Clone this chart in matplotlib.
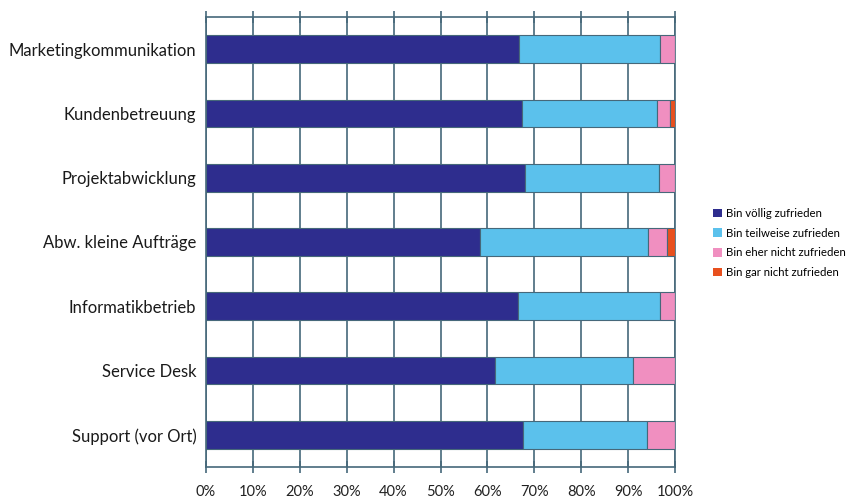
import numpy as np
import matplotlib.pyplot as plt
from matplotlib.patches import Patch

plt.rcParams['font.family'] = ['Lato', 'DejaVu Sans']

# Satisfaction by service area (percent of responses)
categories = ['Marketingkommunikation', 'Kundenbetreuung', 'Projektabwicklung',
              'Abw. kleine Aufträge', 'Informatikbetrieb', 'Service Desk',
              'Support (vor Ort)']
voellig = [66.7, 67.4, 68.0, 58.4, 66.5, 61.6, 67.6]
teilweise = [30.1, 28.8, 28.6, 35.8, 30.3, 29.4, 26.4]
eher_nicht = [3.2, 2.7, 3.4, 4.1, 3.2, 9.0, 6.0]
gar_nicht = [0.0, 1.1, 0.0, 1.7, 0.0, 0.0, 0.0]

series = [voellig, teilweise, eher_nicht, gar_nicht]
names = ['Bin völlig zufrieden', 'Bin teilweise zufrieden',
         'Bin eher nicht zufrieden', 'Bin gar nicht zufrieden']
colors = ['#2e2d8e', '#5bc1ec', '#f08fc0', '#e8501e']
grid_col = '#46687a'

fig = plt.figure(figsize=(8.67, 5.01), dpi=100)
ax = fig.add_axes([0.2376, 0.068, 0.541, 0.898])

y = np.arange(len(categories))
left = np.zeros(len(categories))
for vals, c in zip(series, colors):
    vals = np.array(vals)
    ax.barh(y, vals, left=left, height=0.43, color=c,
            edgecolor=grid_col, linewidth=0.8, zorder=3)
    left += vals

ax.set_xlim(0, 100)
ax.set_ylim(len(categories) - 0.5, -0.5)
ax.set_xticks(np.arange(0, 101, 10))
ax.set_xticklabels([f'{v}%' for v in range(0, 101, 10)], fontsize=10.5, color='#222222')
ax.set_yticks(y)
ax.set_yticklabels(categories, fontsize=12, color='#1a1a1a')
ax.tick_params(axis='y', length=0, pad=7)
ax.tick_params(axis='x', direction='inout', length=8, width=1.2,
               color=grid_col, pad=9, top=True)

ax.grid(axis='x', color=grid_col, linewidth=1.2, zorder=0)
for s in ['left', 'right', 'top', 'bottom']:
    ax.spines[s].set_color(grid_col)
    ax.spines[s].set_linewidth(1.2)

handles = [Patch(facecolor=c, edgecolor='none') for c in colors]
fig.legend(handles, names, loc='center left', bbox_to_anchor=(0.817, 0.515),
           frameon=False, fontsize=8.2, handlelength=0.78, handleheight=0.78,
           handletextpad=0.4, labelspacing=0.75, borderaxespad=0)

fig.savefig('out.png', dpi=100)
